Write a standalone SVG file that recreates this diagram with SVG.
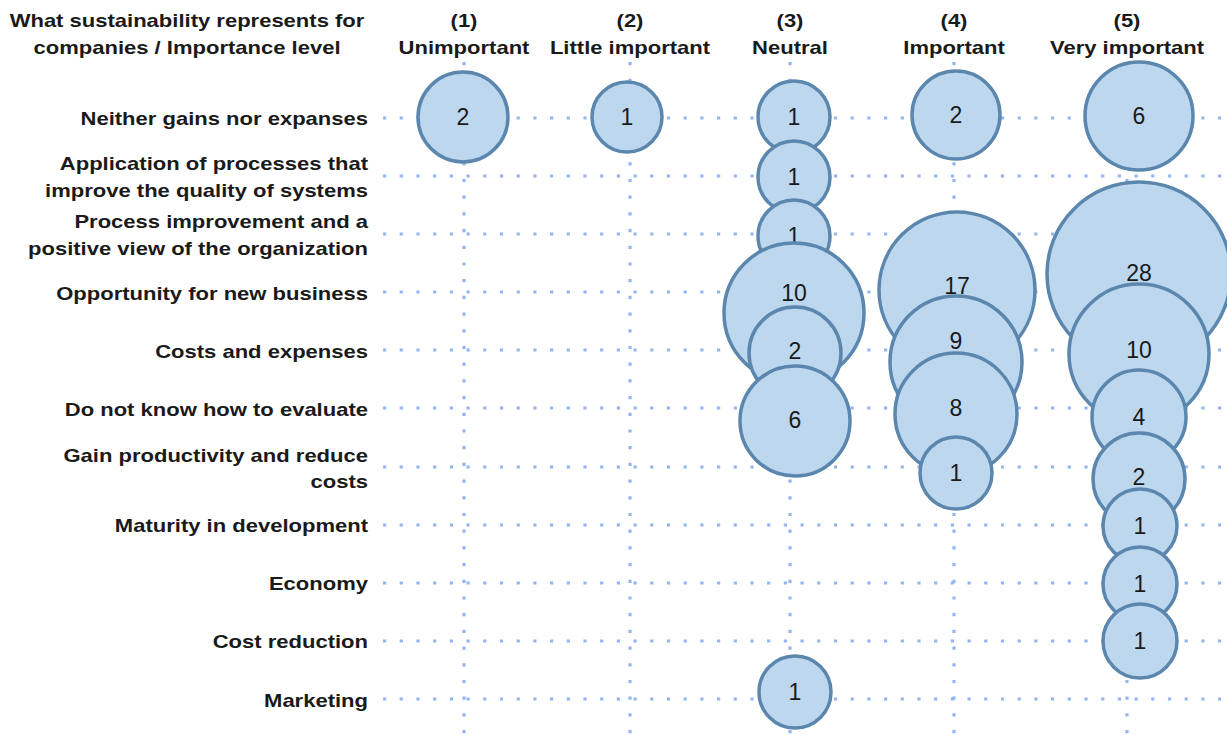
<svg xmlns="http://www.w3.org/2000/svg" width="1227" height="735" viewBox="0 0 1227 735">
<style>
.grid line{stroke:#93b5f2;stroke-width:3.2;stroke-dasharray:3.2 13.5;fill:none}
.b circle{fill:#bdd7ee;stroke:#5b87ae;stroke-width:3.5}
.b text{font-family:"Liberation Sans",Arial,sans-serif;font-size:23px;fill:#1a1a1a;text-anchor:middle;dominant-baseline:central}
.lbl{font-family:"Liberation Sans",Arial,sans-serif;font-size:18.5px;font-weight:bold;fill:#1a1a1a;dominant-baseline:central}
.r{text-anchor:end}
.c{text-anchor:middle}
</style>
<rect width="1227" height="735" fill="#ffffff"/>
<g id="connectors" class="grid">
<line x1="383" y1="118" x2="1227" y2="118"/>
<line x1="383" y1="176" x2="1227" y2="176"/>
<line x1="383" y1="234" x2="1227" y2="234"/>
<line x1="383" y1="292" x2="1227" y2="292"/>
<line x1="383" y1="350" x2="1227" y2="350"/>
<line x1="383" y1="408" x2="1227" y2="408"/>
<line x1="383" y1="467" x2="1227" y2="467"/>
<line x1="383" y1="525" x2="1227" y2="525"/>
<line x1="383" y1="583" x2="1227" y2="583"/>
<line x1="383" y1="641" x2="1227" y2="641"/>
<line x1="383" y1="699" x2="1227" y2="699"/>
<line x1="464" y1="62" x2="464" y2="735"/>
<line x1="630" y1="62" x2="630" y2="735"/>
<line x1="790" y1="62" x2="790" y2="735"/>
<line x1="954" y1="62" x2="954" y2="735"/>
<line x1="1127" y1="62" x2="1127" y2="735"/>
</g>
<g id="header">
<text class="lbl c" transform="translate(187,0) scale(1.19,1)" x="0" y="21">What sustainability represents for</text>
<text class="lbl c" transform="translate(187,0) scale(1.19,1)" x="0" y="48">companies / Importance level</text>
<text class="lbl c" transform="translate(464,0) scale(1.19,1)" x="0" y="21">(1)</text>
<text class="lbl c" transform="translate(464,0) scale(1.19,1)" x="0" y="48">Unimportant</text>
<text class="lbl c" transform="translate(630,0) scale(1.19,1)" x="0" y="21">(2)</text>
<text class="lbl c" transform="translate(630,0) scale(1.19,1)" x="0" y="48">Little important</text>
<text class="lbl c" transform="translate(790,0) scale(1.19,1)" x="0" y="21">(3)</text>
<text class="lbl c" transform="translate(790,0) scale(1.19,1)" x="0" y="48">Neutral</text>
<text class="lbl c" transform="translate(954,0) scale(1.19,1)" x="0" y="21">(4)</text>
<text class="lbl c" transform="translate(954,0) scale(1.19,1)" x="0" y="48">Important</text>
<text class="lbl c" transform="translate(1127,0) scale(1.19,1)" x="0" y="21">(5)</text>
<text class="lbl c" transform="translate(1127,0) scale(1.19,1)" x="0" y="48">Very important</text>
</g>
<g id="rows" transform="translate(368,0) scale(1.19,1)">
<text class="lbl r" x="0" y="119">Neither gains nor expanses</text>
<text class="lbl r" x="0" y="164">Application of processes that</text>
<text class="lbl r" x="0" y="191">improve the quality of systems</text>
<text class="lbl r" x="0" y="222">Process improvement and a</text>
<text class="lbl r" x="0" y="249">positive view of the organization</text>
<text class="lbl r" x="0" y="294">Opportunity for new business</text>
<text class="lbl r" x="0" y="352">Costs and expenses</text>
<text class="lbl r" x="0" y="410">Do not know how to evaluate</text>
<text class="lbl r" x="0" y="456">Gain productivity and reduce</text>
<text class="lbl r" x="0" y="482">costs</text>
<text class="lbl r" x="0" y="526">Maturity in development</text>
<text class="lbl r" x="0" y="584">Economy</text>
<text class="lbl r" x="0" y="642">Cost reduction</text>
<text class="lbl r" x="0" y="701">Marketing</text>
</g>
<g id="col1" class="b">
<g id="b1-1"><circle cx="463" cy="117" r="45"/><text x="463" y="117">2</text></g>
</g>
<g id="col2" class="b">
<g id="b2-1"><circle cx="627" cy="117" r="35"/><text x="627" y="117">1</text></g>
</g>
<g id="col3" class="b">
<g id="b3-1"><circle cx="794" cy="117" r="36"/><text x="794" y="117">1</text></g>
<g id="b3-2"><circle cx="794" cy="177" r="36"/><text x="794" y="177">1</text></g>
<g id="b3-3"><circle cx="794" cy="236" r="36"/><text x="794" y="236">1</text></g>
<g id="b3-4"><circle cx="794" cy="313" r="70"/><text x="794" y="293">10</text></g>
<g id="b3-5"><circle cx="795" cy="353" r="46"/><text x="795" y="351">2</text></g>
<g id="b3-6"><circle cx="795" cy="421" r="55"/><text x="795" y="420">6</text></g>
<g id="b3-11"><circle cx="795" cy="692" r="36"/><text x="795" y="692">1</text></g>
</g>
<g id="col4" class="b">
<g id="b4-1"><circle cx="956" cy="115" r="44"/><text x="956" y="115">2</text></g>
<g id="b4-4"><circle cx="957" cy="290" r="78"/><text x="957" y="286">17</text></g>
<g id="b4-5"><circle cx="956" cy="362" r="66"/><text x="956" y="341">9</text></g>
<g id="b4-6"><circle cx="956" cy="414" r="61"/><text x="956" y="408">8</text></g>
<g id="b4-7"><circle cx="956" cy="473" r="36"/><text x="956" y="473">1</text></g>
</g>
<g id="col5" class="b">
<g id="b5-1"><circle cx="1139" cy="116" r="54"/><text x="1139" y="116">6</text></g>
<g id="b5-4"><circle cx="1139" cy="274" r="92"/><text x="1139" y="273">28</text></g>
<g id="b5-5"><circle cx="1139" cy="354" r="70"/><text x="1139" y="350">10</text></g>
<g id="b5-6"><circle cx="1139" cy="417" r="47"/><text x="1139" y="417">4</text></g>
<g id="b5-7"><circle cx="1139" cy="479" r="46"/><text x="1139" y="477">2</text></g>
<g id="b5-8"><circle cx="1140" cy="526" r="37"/><text x="1140" y="526">1</text></g>
<g id="b5-9"><circle cx="1140" cy="584" r="37"/><text x="1140" y="584">1</text></g>
<g id="b5-10"><circle cx="1140" cy="641" r="37"/><text x="1140" y="641">1</text></g>
</g>
</svg>
